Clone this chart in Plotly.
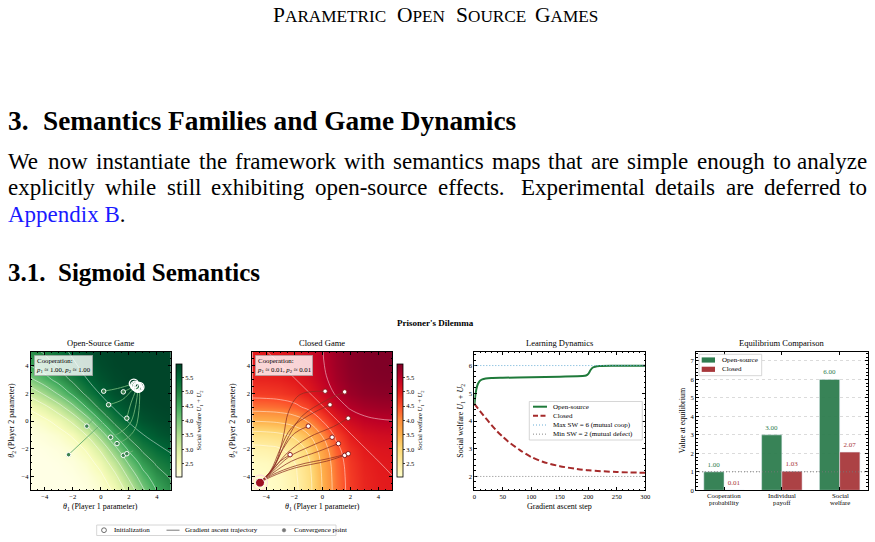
import plotly.graph_objects as go

W, H = 875, 542
FONT = "Liberation Serif"


def fx(x):
    return x / W


def fy(y):
    return 1 - y / H


# ---------------- data ----------------
theta = [-5, -4, -3, -2, -1, 0, 1, 2, 3, 4, 5]

# social welfare surfaces (rows: theta2, cols: theta1)
sw_open = [
    [2.003, 2.007, 2.017, 2.040, 2.100, 2.247, 2.576, 3.173, 3.919, 4.518, 4.860],
    [2.007, 2.015, 2.032, 2.074, 2.174, 2.407, 2.879, 3.595, 4.310, 4.790, 5.058],
    [2.017, 2.032, 2.066, 2.141, 2.311, 2.672, 3.303, 4.077, 4.702, 5.082, 5.312],
    [2.040, 2.074, 2.141, 2.280, 2.567, 3.100, 3.865, 4.607, 5.110, 5.405, 5.591],
    [2.100, 2.174, 2.311, 2.567, 3.028, 3.736, 4.530, 5.135, 5.489, 5.686, 5.803],
    [2.247, 2.407, 2.672, 3.100, 3.736, 4.500, 5.151, 5.548, 5.753, 5.859, 5.916],
    [2.576, 2.879, 3.303, 3.865, 4.530, 5.151, 5.569, 5.787, 5.890, 5.941, 5.966],
    [3.173, 3.595, 4.077, 4.607, 5.135, 5.548, 5.787, 5.901, 5.952, 5.975, 5.987],
    [3.919, 4.310, 4.702, 5.110, 5.489, 5.753, 5.890, 5.952, 5.978, 5.989, 5.994],
    [4.518, 4.790, 5.082, 5.405, 5.686, 5.859, 5.941, 5.975, 5.989, 5.995, 5.998],
    [4.860, 5.058, 5.312, 5.591, 5.803, 5.916, 5.966, 5.987, 5.994, 5.998, 5.999],
]
sw_closed = [
    [2.040, 2.074, 2.162, 2.376, 2.823, 3.513, 4.204, 4.651, 4.865, 4.953, 4.987],
    [2.074, 2.107, 2.195, 2.407, 2.851, 3.536, 4.221, 4.665, 4.878, 4.965, 4.998],
    [2.162, 2.195, 2.280, 2.489, 2.923, 3.595, 4.266, 4.701, 4.910, 4.995, 5.028],
    [2.376, 2.407, 2.489, 2.687, 3.100, 3.738, 4.377, 4.790, 4.988, 5.070, 5.101],
    [2.823, 2.851, 2.923, 3.100, 3.469, 4.038, 4.607, 4.975, 5.152, 5.225, 5.252],
    [3.513, 3.536, 3.595, 3.738, 4.038, 4.500, 4.962, 5.262, 5.405, 5.464, 5.487],
    [4.204, 4.221, 4.266, 4.377, 4.607, 4.962, 5.318, 5.548, 5.658, 5.703, 5.721],
    [4.651, 4.665, 4.701, 4.790, 4.975, 5.262, 5.548, 5.733, 5.822, 5.859, 5.873],
    [4.865, 4.878, 4.910, 4.988, 5.152, 5.405, 5.658, 5.822, 5.901, 5.933, 5.945],
    [4.953, 4.965, 4.995, 5.070, 5.225, 5.464, 5.703, 5.859, 5.933, 5.963, 5.975],
    [4.987, 4.998, 5.028, 5.101, 5.252, 5.487, 5.721, 5.873, 5.945, 5.975, 5.987],
]
sw_range = [2.04, 5.96]
cbar_ticks = [2.5, 3.0, 3.5, 4.0, 4.5, 5.0, 5.5]

init_x = [0.2, 1.6, 0.55, 1.85, -1.0, 0.7, 1.15, 1.6, 1.85, -2.3]
init_y = [2.15, 2.1, 1.17, 0.2, -0.37, -1.17, -1.63, -2.48, -2.36, -2.43]

open_paths_x = [
    [0.2, 1.2, 2.35],
    [1.6, 2.0, 2.45],
    [0.55, 1.55, 2.2, 2.5],
    [1.85, 2.15, 2.6],
    [-1.0, -0.35],
    [0.7, 1.35, 2.1, 2.5, 2.65],
    [1.15, 1.8, 2.45, 2.75, 2.75],
    [1.6, 1.95],
    [1.85, 2.3],
    [-2.3, 0.15],
]
open_paths_y = [
    [2.15, 2.35, 2.7],
    [2.1, 2.3, 2.55],
    [1.17, 1.55, 2.2, 2.5],
    [0.2, 1.3, 2.45],
    [-0.37, 0.35],
    [-1.17, -0.85, -0.15, 1.2, 2.4],
    [-1.63, -1.3, -0.55, 1.2, 2.45],
    [-2.48, -2.3],
    [-2.36, -2.15],
    [-2.43, -0.1],
]
open_conv_x = [2.35, 2.45, 2.6, 2.5, 2.65, 2.75]
open_conv_y = [2.7, 2.55, 2.45, 2.5, 2.4, 2.45]

closed_paths_x = [
    [0.2, -1.6, -2.4, -2.8, -3.4, -4.45],
    [1.6, 0.3, -1.5, -2.6, -3.5, -4.45],
    [0.55, -0.8, -2.2, -3.0, -3.7, -4.45],
    [1.85, 0.8, -1.0, -2.5, -3.6, -4.45],
    [-1.0, -2.0, -2.8, -3.6, -4.45],
    [0.7, -0.8, -2.4, -3.6, -4.45],
    [1.15, -0.3, -2.2, -3.6, -4.45],
    [1.6, 0.3, -2.0, -3.6, -4.45],
    [1.85, 0.5, -1.8, -3.6, -4.45],
    [-2.3, -3.0, -3.8, -4.45],
]
closed_paths_y = [
    [2.15, 1.9, 0.7, -1.2, -3.2, -4.45],
    [2.1, 1.5, 0.3, -1.5, -3.4, -4.45],
    [1.17, 0.5, -0.5, -2.0, -3.6, -4.45],
    [0.2, -0.4, -1.2, -2.3, -3.6, -4.45],
    [-0.37, -0.9, -2.0, -3.5, -4.45],
    [-1.17, -1.8, -2.6, -3.7, -4.45],
    [-1.63, -2.2, -2.9, -3.8, -4.45],
    [-2.48, -2.9, -3.4, -4.0, -4.45],
    [-2.36, -2.7, -3.2, -3.9, -4.45],
    [-2.43, -2.9, -3.8, -4.45],
]
closed_conv_x = [-4.45]
closed_conv_y = [-4.45]

steps_open = [0, 1, 2, 3, 4, 6, 8, 10, 14, 20, 30, 50, 100, 150, 190, 196, 200, 204, 208, 212, 220, 240, 300]
sw_dyn_open = [4.55, 4.75, 4.95, 5.08, 5.18, 5.32, 5.40, 5.45, 5.50, 5.53, 5.55, 5.56, 5.58, 5.60, 5.62,
               5.64, 5.70, 5.84, 5.93, 5.96, 5.98, 5.99, 5.99]
steps_closed = [0, 10, 20, 30, 40, 50, 60, 80, 100, 120, 150, 180, 200, 250, 300]
sw_dyn_closed = [4.62, 4.36, 4.10, 3.86, 3.63, 3.43, 3.25, 2.95, 2.70, 2.53, 2.37, 2.27, 2.22, 2.16, 2.13]
sw_max, sw_min = 6, 2

eq_labels = [("Cooperation", "probability"), ("Individual", "payoff"), ("Social", "welfare")]
eq_pos = [0, 1, 2]
eq_open = [1.00, 3.00, 6.00]
eq_closed = [0.01, 1.03, 2.07]

# ---------------- style ----------------
YLGN = [[0, '#ffffe5'], [0.125, '#f7fcb9'], [0.25, '#d9f0a3'], [0.375, '#addd8e'], [0.5, '#78c679'],
        [0.625, '#41ab5d'], [0.75, '#238443'], [0.875, '#006837'], [1, '#004529']]
YLORRD = [[0, '#ffffcc'], [0.125, '#ffeda0'], [0.25, '#fed976'], [0.375, '#feb24c'], [0.5, '#fd8d3c'],
          [0.625, '#fc4e2a'], [0.75, '#e31a1c'], [0.875, '#bd0026'], [1, '#800026']]
GREEN = '#2e7d4f'
RED = '#a8383b'
LINE_GREEN = '#1f7a3a'
LINE_RED = '#a52a2a'

PANEL_Y = [351.7, 490.3]
P1X = [30.7, 171.0]
P2X = [252.3, 392.3]
P3X = [474.3, 645.3]
P4X = [696.0, 867.7]
ydom = [fy(PANEL_Y[1]), fy(PANEL_Y[0])]

fig = go.Figure()


def add_heat(z, cscale, xa, ya, cbx):
    fig.add_trace(go.Heatmap(
        x=theta, y=theta, z=z, colorscale=cscale, zmin=sw_range[0], zmax=sw_range[1],
        zsmooth='best', xaxis=xa, yaxis=ya, hoverinfo='skip',
        colorbar=dict(x=fx(cbx), xanchor='left', y=fy(420.5), yanchor='middle',
                      len=113 / H, lenmode='fraction', thickness=6, thicknessmode='pixels',
                      outlinewidth=0.8, outlinecolor='black', xpad=0, ypad=0,
                      tickmode='array', tickvals=cbar_ticks, ticktext=[f"{v:.1f}" for v in cbar_ticks],
                      ticks='outside', ticklen=2, tickwidth=0.6,
                      tickfont=dict(family=FONT, size=6.5, color='black'),
                      title=dict(text='Social welfare <i>U</i><sub>1</sub> + <i>U</i><sub>2</sub>',
                                 side='right', font=dict(family=FONT, size=6.5, color='black')))))
    fig.add_trace(go.Contour(
        x=theta, y=theta, z=z, xaxis=xa, yaxis=ya, showscale=False, hoverinfo='skip',
        contours=dict(coloring='none', start=2.5, end=5.5, size=0.5),
        line=dict(color='rgba(255,255,255,0.6)', width=0.8, smoothing=1.3)))


add_heat(sw_open, YLGN, 'x', 'y', 175.7)
add_heat(sw_closed, YLORRD, 'x2', 'y2', 397.0)

for px_, py_ in zip(open_paths_x, open_paths_y):
    fig.add_trace(go.Scatter(x=px_, y=py_, mode='lines', xaxis='x', yaxis='y', hoverinfo='skip',
                             line=dict(color='rgba(105,175,115,0.95)', width=1, shape='spline', smoothing=1)))
fig.add_trace(go.Scatter(x=init_x, y=init_y, mode='markers', xaxis='x', yaxis='y', hoverinfo='skip',
                         marker=dict(size=4.5, color='rgba(60,130,80,1)', line=dict(color='white', width=1))))
fig.add_trace(go.Scatter(x=open_conv_x, y=open_conv_y, mode='markers', xaxis='x', yaxis='y', hoverinfo='skip',
                         marker=dict(symbol='circle-open', size=9, color='white', line=dict(color='white', width=1.4))))

for px_, py_ in zip(closed_paths_x, closed_paths_y):
    fig.add_trace(go.Scatter(x=px_, y=py_, mode='lines', xaxis='x2', yaxis='y2', hoverinfo='skip',
                             line=dict(color='rgba(140,45,35,0.75)', width=1, shape='spline', smoothing=1)))
fig.add_trace(go.Scatter(x=init_x, y=init_y, mode='markers', xaxis='x2', yaxis='y2', hoverinfo='skip',
                         marker=dict(size=4.5, color='white', line=dict(color='#8b1a1a', width=1))))
fig.add_trace(go.Scatter(x=closed_conv_x, y=closed_conv_y, mode='markers', xaxis='x2', yaxis='y2',
                         hoverinfo='skip',
                         marker=dict(symbol='circle-open', size=15, color='rgba(255,220,220,0.95)',
                                     line=dict(color='rgba(255,220,220,0.95)', width=1.2))))
fig.add_trace(go.Scatter(x=closed_conv_x, y=closed_conv_y, mode='markers', xaxis='x2', yaxis='y2',
                         hoverinfo='skip',
                         marker=dict(size=9, color='#9e1020', line=dict(color='white', width=1))))

# learning dynamics
fig.add_trace(go.Scatter(x=steps_open, y=sw_dyn_open, mode='lines', xaxis='x3', yaxis='y3', hoverinfo='skip',
                         line=dict(color=LINE_GREEN, width=2, shape='spline', smoothing=0.6)))
fig.add_trace(go.Scatter(x=steps_closed, y=sw_dyn_closed, mode='lines', xaxis='x3', yaxis='y3', hoverinfo='skip',
                         line=dict(color=LINE_RED, width=2, dash='6px,3px', shape='spline', smoothing=0.8)))

# equilibrium comparison
fig.add_trace(go.Bar(x=eq_pos, y=eq_open, xaxis='x4', yaxis='y4', marker=dict(color=GREEN, opacity=0.95),
                     texttemplate='%{y:.2f}', textposition='outside', cliponaxis=False,
                     textfont=dict(family=FONT, size=7, color=GREEN), hoverinfo='skip'))
fig.add_trace(go.Bar(x=eq_pos, y=eq_closed, xaxis='x4', yaxis='y4', marker=dict(color=RED, opacity=0.95),
                     texttemplate='%{y:.2f}', textposition='outside', cliponaxis=False,
                     textfont=dict(family=FONT, size=7, color=RED), hoverinfo='skip'))


def axis(dom, rng, anchor, dtick=None, minor=None, tickvals=None, grid=False, labels=True):
    d = dict(domain=dom, range=rng, anchor=anchor, ticks='inside', ticklen=3, tickwidth=0.6,
             tickcolor='black', showline=True, linecolor='black', linewidth=0.8, mirror='allticks',
             showgrid=grid, zeroline=False, automargin=False, fixedrange=True, showticklabels=labels,
             tickfont=dict(family=FONT, size=6.6, color='black'))
    if tickvals is not None:
        d.update(tickmode='array', tickvals=tickvals)
    else:
        d.update(tickmode='linear', tick0=0, dtick=dtick)
    if minor:
        d['minor'] = dict(ticks='inside', ticklen=1.6, tickwidth=0.5, tickcolor='black', dtick=minor,
                          tick0=0, showgrid=False)
    if grid:
        d.update(gridcolor='rgba(0,0,0,0.14)', gridwidth=0.6, griddash='dot')
    return d


layout = dict(
    width=W, height=H, margin=dict(l=0, r=0, t=0, b=0), paper_bgcolor='white', plot_bgcolor='white',
    showlegend=False, barmode='group', bargap=0.3, bargroupgap=0,
    xaxis=axis([fx(P1X[0]), fx(P1X[1])], [-5, 5], 'y', dtick=2, minor=0.5),
    yaxis=axis(ydom, [-5, 5], 'x', dtick=2, minor=0.5),
    xaxis2=axis([fx(P2X[0]), fx(P2X[1])], [-5, 5], 'y2', dtick=2, minor=0.5),
    yaxis2=axis(ydom, [-5, 5], 'x2', dtick=2, minor=0.5),
    xaxis3=axis([fx(P3X[0]), fx(P3X[1])], [0, 300], 'y3', dtick=50, minor=10),
    yaxis3=axis(ydom, [1.5, 6.5], 'x3', dtick=1, minor=0.2),
    xaxis4=axis([fx(P4X[0]), fx(P4X[1])], [-0.485, 2.485], 'y4', tickvals=eq_pos, labels=False),
    yaxis4=axis(ydom, [0, 7.5], 'x4', dtick=1, minor=0.2, grid=True),
)
fig.update_layout(**layout)

ann = []


def text(x, y, s, size, xanchor='left', yanchor='middle', color='black', angle=0, **kw):
    d = dict(x=fx(x), y=fy(y), xref='paper', yref='paper', text=s, showarrow=False,
             xanchor=xanchor, yanchor=yanchor, textangle=angle,
             font=dict(family=FONT, size=size, color=color))
    d.update(kw)
    ann.append(d)


# approximate glyph advance widths (per 1000 em) for word placement in justified lines
ADV = dict(zip("abcdefghijklmnopqrstuvwxyz",
               [444, 500, 444, 500, 444, 333, 500, 500, 278, 278, 500, 278, 778, 500, 500, 500, 500, 333,
                389, 278, 500, 500, 722, 500, 500, 444]))
ADV.update(dict(zip("ABCDEFGHIJKLMNOPQRSTUVWXYZ",
                    [722, 667, 667, 722, 611, 556, 722, 722, 333, 389, 722, 611, 889, 722, 722, 556, 722, 667,
                     556, 611, 722, 722, 944, 722, 722, 611])))
ADV.update({'.': 250, '-': 333, ',': 250})


def tw(s, size):
    return sum(ADV.get(c, 500) for c in s) * size / 1000.0


def justify(line, x0, x1, y, size):
    words = line.split()
    widths = [tw(w, size) for w in words]
    weights = [1.6 if w.endswith('.') else 1.0 for w in words[:-1]]
    unit = (x1 - x0 - sum(widths)) / sum(weights)
    x = x0
    for i, w in enumerate(words):
        if i == len(words) - 1:
            text(x1, y, w, size, xanchor='right', borderpad=0)
        else:
            text(x, y, w, size, borderpad=0)
            x += widths[i] + unit * weights[i]


# ---- page text: running head in small caps ----
HB, HS = 21.5, 17.2
head_words = ["PARAMETRIC", "OPEN", "SOURCE", "GAMES"]
head_w = [tw(w[0], HB) + tw(w[1:], HS) for w in head_words]
gap = (599 - 272 - sum(head_w)) / 3
hx = 272
for i, w in enumerate(head_words):
    s = w[0] + f"<span style='font-size:{HS}px'>{w[1:]}</span>"
    if i == len(head_words) - 1:
        text(599, 15, s, HB, xanchor='right', borderpad=0)
    else:
        text(hx, 15, s, HB, borderpad=0)
    hx += head_w[i] + gap

text(7, 121, "<b>3.</b>", 27.3, borderpad=0)
text(42, 121, "<b>Semantics Families and Game Dynamics</b>", 27.3, borderpad=0)

PS = 23
justify("We now instantiate the framework with semantics maps that are simple enough to analyze", 7, 868, 162, PS)
justify("explicitly while still exhibiting open-source effects. Experimental details are deferred to",
        7, 868, 188, PS)
text(7, 214, "<span style='color:#1a1aff'>Appendix B</span>.", PS, borderpad=0)

text(7, 272, "<b>3.1.</b>", 25, borderpad=0)
text(57, 272, "<b>Sigmoid Semantics</b>", 25, borderpad=0)

# ---- figure text ----
text(435, 323, "<b>Prisoner's Dilemma</b>", 9, xanchor='center')
text(100.8, 342.5, "Open-Source Game", 8.5, xanchor='center')
text(322.3, 342.5, "Closed Game", 8.5, xanchor='center')
text(559.8, 342.5, "Learning Dynamics", 8.5, xanchor='center')
text(781.8, 342.5, "Equilibrium Comparison", 8.5, xanchor='center')

text(100.8, 506.5, "<i>θ</i><sub>1</sub> (Player 1 parameter)", 8, xanchor='center', borderpad=0)
text(322.3, 506.5, "<i>θ</i><sub>1</sub> (Player 1 parameter)", 8, xanchor='center', borderpad=0)
text(12.0, 420.7, "<i>θ</i><sub>2</sub> (Player 2 parameter)", 8, xanchor='center', angle=-90, borderpad=0)
text(233.0, 420.7, "<i>θ</i><sub>2</sub> (Player 2 parameter)", 8, xanchor='center', angle=-90, borderpad=0)
text(559.8, 506.5, "Gradient ascent step", 8, xanchor='center', borderpad=0)
text(461.0, 420.7, "Social welfare <i>U</i><sub>1</sub> + <i>U</i><sub>2</sub>", 8, xanchor='center', angle=-90,
     borderpad=0)
text(682.5, 420.7, "Value at equilibrium", 8, xanchor='center', angle=-90, borderpad=0)

P4_CENTERS = [724.0, 781.7, 840.3]
for (l1, l2), cx in zip(eq_labels, P4_CENTERS):
    text(cx, 495.0, l1, 6.8, xanchor='center', borderpad=0)
    text(cx, 502.4, l2, 6.8, xanchor='center', borderpad=0)

box = dict(bgcolor='rgba(255,255,255,0.82)', bordercolor='#9a9a9a', borderwidth=0.6, borderpad=1.5, align='left')
text(33.5, 354.5, "Cooperation:<br><i>p</i><sub>1</sub> ≈ 1.00, <i>p</i><sub>2</sub> ≈ 1.00", 6.8,
     yanchor='top', **box)
text(255.3, 354.5, "Cooperation:<br><i>p</i><sub>1</sub> ≈ 0.01, <i>p</i><sub>2</sub> ≈ 0.01", 6.8,
     yanchor='top', **box)

shapes = []


def rect(x0, y0, x1, y1, fill, line='#cccccc', lw=0.8):
    shapes.append(dict(type='rect', xref='paper', yref='paper', x0=fx(x0), x1=fx(x1), y0=fy(y1), y1=fy(y0),
                       fillcolor=fill, line=dict(color=line, width=lw), layer='above'))


def hseg(x0, x1, y, color, width, dash='solid'):
    shapes.append(dict(type='line', xref='paper', yref='paper', x0=fx(x0), x1=fx(x1), y0=fy(y), y1=fy(y),
                       line=dict(color=color, width=width, dash=dash), layer='above'))


# reference lines (data coords)
shapes.append(dict(type='line', xref='x3 domain', yref='y3', x0=0, x1=1, y0=sw_max, y1=sw_max,
                   line=dict(color='#6aaed6', width=1, dash='1px,2px')))
shapes.append(dict(type='line', xref='x3 domain', yref='y3', x0=0, x1=1, y0=sw_min, y1=sw_min,
                   line=dict(color='#888888', width=1, dash='1px,2px')))
shapes.append(dict(type='line', xref='x4 domain', yref='y4', x0=0, x1=1, y0=1, y1=1,
                   line=dict(color='#777777', width=0.9, dash='1px,2px')))

# legend: learning dynamics
rect(529.3, 401.5, 642.3, 440.0, 'rgba(255,255,255,0.85)')
leg3 = [("Open-source", LINE_GREEN, 2, 'solid'), ("Closed", LINE_RED, 2, '5px,2.5px'),
        ("Max SW = 6 (mutual coop)", '#6aaed6', 1, '1px,2px'),
        ("Min SW = 2 (mutual defect)", '#888888', 1, '1px,2px')]
for i, (lab, col, lw, dash) in enumerate(leg3):
    yy = 406.7 + i * 9.15
    hseg(533, 547, yy, col, lw, dash)
    text(550.5, yy, lab, 7)

# legend: equilibrium comparison
rect(699.0, 354.3, 761.7, 375.7, 'rgba(255,255,255,0.85)')
for i, (lab, col) in enumerate([("Open-source", GREEN), ("Closed", RED)]):
    yy = 360.0 + i * 9.3
    rect(701.7, yy - 2.6, 715.0, yy + 2.6, col, line=col, lw=0)
    text(719.5, yy, lab, 7)

# bottom legend
rect(96.7, 525.0, 336.0, 535.5, 'white')
shapes.append(dict(type='circle', xref='paper', yref='paper', x0=fx(101.6), x1=fx(106.4), y0=fy(532.6),
                   y1=fy(527.8), line=dict(color='#333333', width=0.7), fillcolor='white', layer='above'))
text(111.5, 530.2, "Initialization", 7)
hseg(166.5, 179.5, 530.2, '#777777', 1)
text(183.3, 530.2, "Gradient ascent trajectory", 7)
shapes.append(dict(type='circle', xref='paper', yref='paper', x0=fx(282.2), x1=fx(285.8), y0=fy(532.0),
                   y1=fy(528.4), line=dict(color='#777777', width=0.5), fillcolor='#777777', layer='above'))
text(291.7, 530.2, "Convergence point", 7)

fig.update_layout(annotations=ann, shapes=shapes)
fig.write_html("out.html")
